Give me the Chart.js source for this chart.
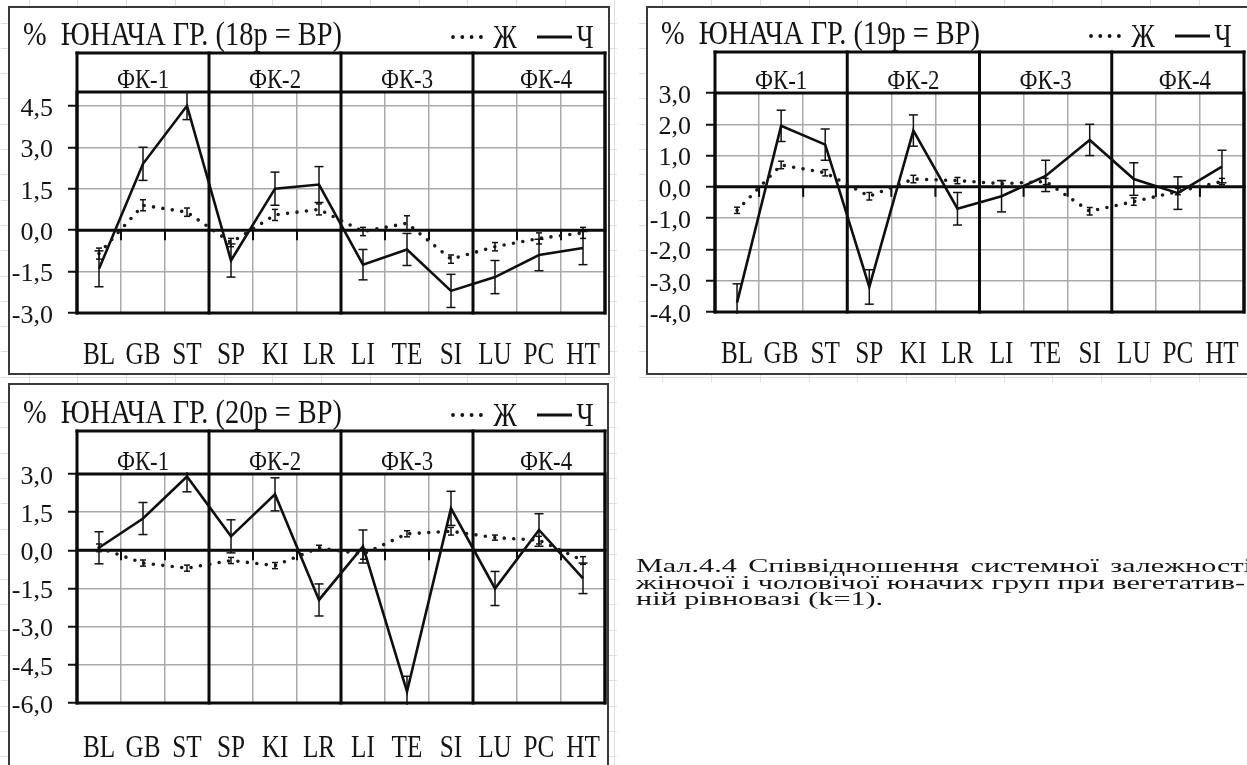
<!DOCTYPE html>
<html>
<head>
<meta charset="utf-8">
<script src="https://cdn.jsdelivr.net/npm/chart.js@4.4.1/dist/chart.umd.min.js"></script>
<style>
  html, body { margin: 0; padding: 0; background: #fff; }
  body { position: relative; width: 1247px; height: 765px; overflow: hidden; }
  #sheet { position: absolute; left: 0; top: 0; }
  .box { position: absolute; background: #fff; }
  .box canvas { position: absolute; left: 0; top: 0; }
</style>
</head>
<body>
<canvas id="sheet" width="1247" height="765"></canvas>
<div class="box" style="left:8px;top:6px;width:602px;height:369px"><canvas id="c18" width="602" height="369"></canvas></div>
<div class="box" style="left:646px;top:6px;width:603px;height:369px"><canvas id="c19" width="603" height="369"></canvas></div>
<div class="box" style="left:8px;top:383px;width:601px;height:386px"><canvas id="c20" width="601" height="386"></canvas></div>
<div class="box" style="left:620px;top:545px;width:627px;height:75px"><canvas id="cap" width="627" height="75"></canvas></div>

<script>
// Meridian categories and functional-circle groups
const categories = ['BL', 'GB', 'ST', 'SP', 'KI', 'LR', 'LI', 'TE', 'SI', 'LU', 'PC', 'HT'];
const groupLabels = ['ФК-1', 'ФК-2', 'ФК-3', 'ФК-4'];
const legendFemale = 'Ж';
const legendMale = 'Ч';

// Y tick values for each panel
const yTicks18 = [-3, -1.5, 0, 1.5, 3, 4.5];
const yTicks19 = [-4, -3, -2, -1, 0, 1, 2, 3];
const yTicks20 = [-6, -4.5, -3, -1.5, 0, 1.5, 3];

// 18 years
const male18 = [-1.4, 2.4, 4.5, -1.1, 1.5, 1.65, -1.25, -0.7, -2.2, -1.7, -0.9, -0.65];
const male18Err = [0.65, 0.6, 0.5, 0.6, 0.6, 0.65, 0.55, 0.58, 0.6, 0.6, 0.57, 0.6];
const female18 = [-0.85, 0.9, 0.65, -0.45, 0.55, 0.75, -0.05, 0.25, -1.05, -0.6, -0.3, -0.1];
const female18Err = [0.2, 0.2, 0.15, 0.15, 0.2, 0.2, 0.15, 0.27, 0.15, 0.15, 0.2, 0.2];

// 19 years
const male19 = [-3.7, 1.95, 1.35, -3.2, 1.8, -0.7, -0.3, 0.35, 1.5, 0.25, -0.2, 0.65];
const male19Err = [0.6, 0.5, 0.5, 0.55, 0.5, 0.52, 0.5, 0.5, 0.5, 0.52, 0.52, 0.52];
const female19 = [-0.75, 0.7, 0.45, -0.3, 0.25, 0.2, 0.1, 0.17, -0.78, -0.47, -0.15, 0.17];
const female19Err = [0.1, 0.12, 0.1, 0.12, 0.12, 0.1, 0.1, 0.1, 0.12, 0.12, 0.1, 0.1];

// 20 years
const male20 = [0.1, 1.25, 2.9, 0.55, 2.2, -1.95, 0.15, -5.55, 1.65, -1.5, 0.8, -1.1];
const male20Err = [0.63, 0.63, 0.6, 0.65, 0.65, 0.63, 0.65, 0.6, 0.67, 0.67, 0.64, 0.6];
const female20 = [0.1, -0.5, -0.7, -0.4, -0.6, 0.1, -0.15, 0.65, 0.75, 0.5, 0.4, -0.4];
const female20Err = [0.15, 0.12, 0.12, 0.12, 0.12, 0.1, 0.2, 0.12, 0.15, 0.1, 0.15, 0.15];

const captionLines = [
  'Мал.4.4 Співвідношення системної залежності',
  'жіночої і чоловічої юначих груп при вегетатив-',
  'ній рівновазі (k=1).'
];

const SERIF = "'Liberation Serif'";
const INK = '#141414';
const GRID = '#a9a9a9';

Chart.defaults.font.family = SERIF;
Chart.defaults.color = INK;

function fmtTick(v) {
  return Number(v).toFixed(1).replace('.', ',');
}

// draws text squeezed/stretched horizontally by sx
function drawText(ctx, txt, x, y, size, sx, align) {
  ctx.save();
  ctx.font = size + 'px ' + SERIF;
  ctx.textBaseline = 'alphabetic';
  ctx.textAlign = 'left';
  const w = ctx.measureText(txt).width * sx;
  const x0 = align === 'center' ? x - w / 2 : (align === 'right' ? x - w : x);
  ctx.translate(x0, y);
  ctx.scale(sx, 1);
  ctx.fillStyle = INK;
  ctx.fillText(txt, 0, 0);
  ctx.restore();
  return w;
}

function seg(ctx, x1, y1, x2, y2) {
  ctx.beginPath();
  ctx.moveTo(x1, y1);
  ctx.lineTo(x2, y2);
  ctx.stroke();
}

// faint worksheet cell grid showing in the margins around the chart objects
(function drawSheet() {
  const ctx = document.getElementById('sheet').getContext('2d');
  const around = [[1, 0, 616, 382], [639, 0, 608, 382], [1, 376, 616, 389]];
  ctx.save();
  ctx.beginPath();
  around.forEach(r => ctx.rect(r[0], r[1], r[2], r[3]));
  ctx.clip();
  ctx.strokeStyle = '#dedede';
  ctx.lineWidth = 1;
  for (let x = 28.5; x < 1247; x += 48.75) seg(ctx, Math.round(x) + 0.5, 0, Math.round(x) + 0.5, 765);
  for (let y = 22.5; y < 765; y += 25.3) seg(ctx, 0, Math.round(y) + 0.5, 1247, Math.round(y) + 0.5);
  ctx.restore();
})();

function panelPlugin(spec) {
  return {
    id: 'panelFrame',
    beforeDatasetsDraw(chart) {
      const ctx = chart.ctx, a = chart.chartArea;
      const xs = chart.scales.x, ys = chart.scales.y;
      const bw = xs.getPixelForValue(1) - xs.getPixelForValue(0);
      const y0 = ys.getPixelForValue(0);
      ctx.save();
      ctx.strokeStyle = '#0b0b0b';
      ctx.lineWidth = 3;
      ctx.lineCap = 'square';
      // header band and plot frame
      seg(ctx, a.left, spec.headerTop, a.right, spec.headerTop);
      ctx.strokeRect(a.left, a.top, a.right - a.left, a.bottom - a.top);
      for (let g = 0; g <= groupLabels.length; g++) {
        const xg = g < groupLabels.length ? xs.getPixelForValue(g * 3) - bw / 2 : xs.getPixelForValue(categories.length - 1) + bw / 2;
        seg(ctx, xg, spec.headerTop, xg, a.bottom);
      }
      // zero line with category tick marks
      seg(ctx, a.left, y0, a.right, y0);
      ctx.lineWidth = 2;
      ctx.lineCap = 'butt';
      for (let i = 1; i < categories.length; i++) {
        if (i % 3 === 0) continue;
        const xb = xs.getPixelForValue(i) - bw / 2;
        seg(ctx, xb, y0, xb, y0 + 10);
      }
      ctx.restore();
    },
    afterDatasetsDraw(chart) {
      const ctx = chart.ctx, a = chart.chartArea, ys = chart.scales.y;
      ctx.save();
      ctx.beginPath();
      ctx.rect(a.left - 2, a.top - 2, a.right - a.left + 4, a.bottom - a.top + 4);
      ctx.clip();
      ctx.strokeStyle = '#111';
      ctx.lineWidth = 1.5;
      ctx.lineCap = 'butt';
      chart.data.datasets.forEach((ds, di) => {
        const meta = chart.getDatasetMeta(di);
        meta.data.forEach((pt, i) => {
          const v = ds.data[i], e = ds.errors[i];
          const yt = ys.getPixelForValue(v + e), yb = ys.getPixelForValue(v - e);
          const c = ds.capHalf;
          seg(ctx, pt.x, yt, pt.x, yb);
          seg(ctx, pt.x - c, yt, pt.x + c, yt);
          seg(ctx, pt.x - c, yb, pt.x + c, yb);
        });
      });
      ctx.restore();
    },
    afterDraw(chart) {
      const ctx = chart.ctx, a = chart.chartArea, xs = chart.scales.x;
      const W = chart.width, H = chart.height;
      // title
      drawText(ctx, spec.title, 15, spec.titleBase, 33, spec.titleSx, 'left');
      // legend
      ctx.save();
      ctx.fillStyle = '#111';
      for (let k = 0; k < 4; k++) {
        ctx.beginPath();
        ctx.arc(445 + k * 9.3, spec.titleBase - 8, 1.9, 0, Math.PI * 2);
        ctx.fill();
      }
      ctx.strokeStyle = '#111';
      ctx.lineWidth = 3;
      seg(ctx, 529, spec.titleBase - 8, 564, spec.titleBase - 8);
      ctx.restore();
      drawText(ctx, legendFemale, 497, spec.titleBase + 3, 33, 0.8, 'center');
      drawText(ctx, legendMale, 577, spec.titleBase + 3, 33, 0.8, 'center');
      // functional-circle headers
      groupLabels.forEach((g, k) => {
        const cx = (xs.getPixelForValue(k * 3) + xs.getPixelForValue(k * 3 + 2)) / 2 + (k === 3 ? 7 : 0);
        drawText(ctx, g, cx, a.top - 4, 26.5, 0.86, 'center');
      });
      // category labels
      categories.forEach((c, i) => {
        drawText(ctx, c, xs.getPixelForValue(i), a.bottom + spec.xLabelGap, 31.5, 0.8, 'center');
      });
      // outer border
      ctx.save();
      ctx.strokeStyle = '#3a3a3a';
      ctx.lineWidth = 2;
      ctx.strokeRect(1, 1, W - 2, H - 2);
      ctx.restore();
    }
  };
}

function buildPanel(id, spec) {
  const canvas = document.getElementById(id);
  const W = canvas.width, H = canvas.height;
  return new Chart(canvas, {
    type: 'line',
    data: {
      labels: categories,
      datasets: [
        {
          label: legendFemale, data: spec.female, errors: spec.femaleErr, capHalf: 3,
          borderColor: '#1a1a1a', borderWidth: 3.6, borderDash: [0, 9.5], borderCapStyle: 'round',
          pointRadius: 0, tension: 0, fill: false
        },
        {
          label: legendMale, data: spec.male, errors: spec.maleErr, capHalf: 4.5,
          borderColor: '#0f0f0f', borderWidth: 2.6, borderJoinStyle: 'miter',
          pointRadius: 0, tension: 0, fill: false
        }
      ]
    },
    options: {
      responsive: false,
      animation: false,
      events: [],
      layout: { padding: { left: 0, top: spec.area.t, right: W - spec.area.r, bottom: 0 } },
      plugins: { legend: { display: false }, tooltip: { enabled: false } },
      scales: {
        x: {
          offset: true,
          grid: { offset: true, color: GRID, lineWidth: 1.5, drawTicks: false },
          border: { display: false },
          ticks: { display: false, autoSkip: false },
          afterFit: (s) => { s.height = H - spec.area.b; }
        },
        y: {
          min: spec.yMin, max: spec.yMax,
          afterBuildTicks: (s) => { s.ticks = spec.yTicks.map(v => ({ value: v })); },
          grid: { color: GRID, lineWidth: 1.5, tickColor: '#111', tickLength: 9, tickWidth: 2 },
          border: { display: false },
          ticks: { autoSkip: false, font: { size: 26 }, padding: 15, labelOffset: 3, color: INK, callback: (v) => fmtTick(v) },
          afterFit: (s) => { s.width = spec.area.l; }
        }
      }
    },
    plugins: [panelPlugin(spec)]
  });
}

// figure caption, justified like the printed page
function drawCaption() {
  const canvas = document.getElementById('cap');
  const ctx = canvas.getContext('2d');
  ctx.clearRect(0, 0, canvas.width, canvas.height);
  const size = 19.5;
  ctx.font = size + 'px ' + SERIF;
  ctx.fillStyle = INK;
  ctx.textBaseline = 'alphabetic';
  const sx = 609 / ctx.measureText(captionLines[1]).width;
  const baselines = [27, 43.5, 60];
  const targets = [616, 609, null];
  captionLines.forEach((line, li) => {
    ctx.save();
    ctx.translate(16, baselines[li]);
    ctx.scale(sx, 1);
    if (targets[li] === null) {
      ctx.fillText(line, 0, 0);
    } else {
      const words = line.split(' ');
      const widths = words.map(w => ctx.measureText(w).width);
      const sum = widths.reduce((p, q) => p + q, 0);
      const gap = (targets[li] / sx - sum) / (words.length - 1);
      let x = 0;
      words.forEach((w, k) => { ctx.fillText(w, x, 0); x += widths[k] + gap; });
    }
    ctx.restore();
  });
}

buildPanel('c18', {
  title: '%  ЮНАЧА ГР. (18р = ВР)', titleBase: 39, titleSx: 0.86,
  yMin: -3, yMax: 5, yTicks: yTicks18,
  male: male18, maleErr: male18Err, female: female18, femaleErr: female18Err,
  area: { l: 69, t: 86, r: 597, b: 307 }, headerTop: 47, xLabelGap: 51
});
buildPanel('c19', {
  title: '%  ЮНАЧА ГР. (19р = ВР)', titleBase: 38, titleSx: 0.86,
  yMin: -4, yMax: 3, yTicks: yTicks19,
  male: male19, maleErr: male19Err, female: female19, femaleErr: female19Err,
  area: { l: 69, t: 87, r: 598, b: 306 }, headerTop: 46, xLabelGap: 51
});
buildPanel('c20', {
  title: '%  ЮНАЧА ГР. (20р = ВР)', titleBase: 40, titleSx: 0.86,
  yMin: -6, yMax: 3, yTicks: yTicks20,
  male: male20, maleErr: male20Err, female: female20, femaleErr: female20Err,
  area: { l: 69, t: 91, r: 597, b: 320 }, headerTop: 48, xLabelGap: 54
});
drawCaption();
</script>
</body>
</html>
